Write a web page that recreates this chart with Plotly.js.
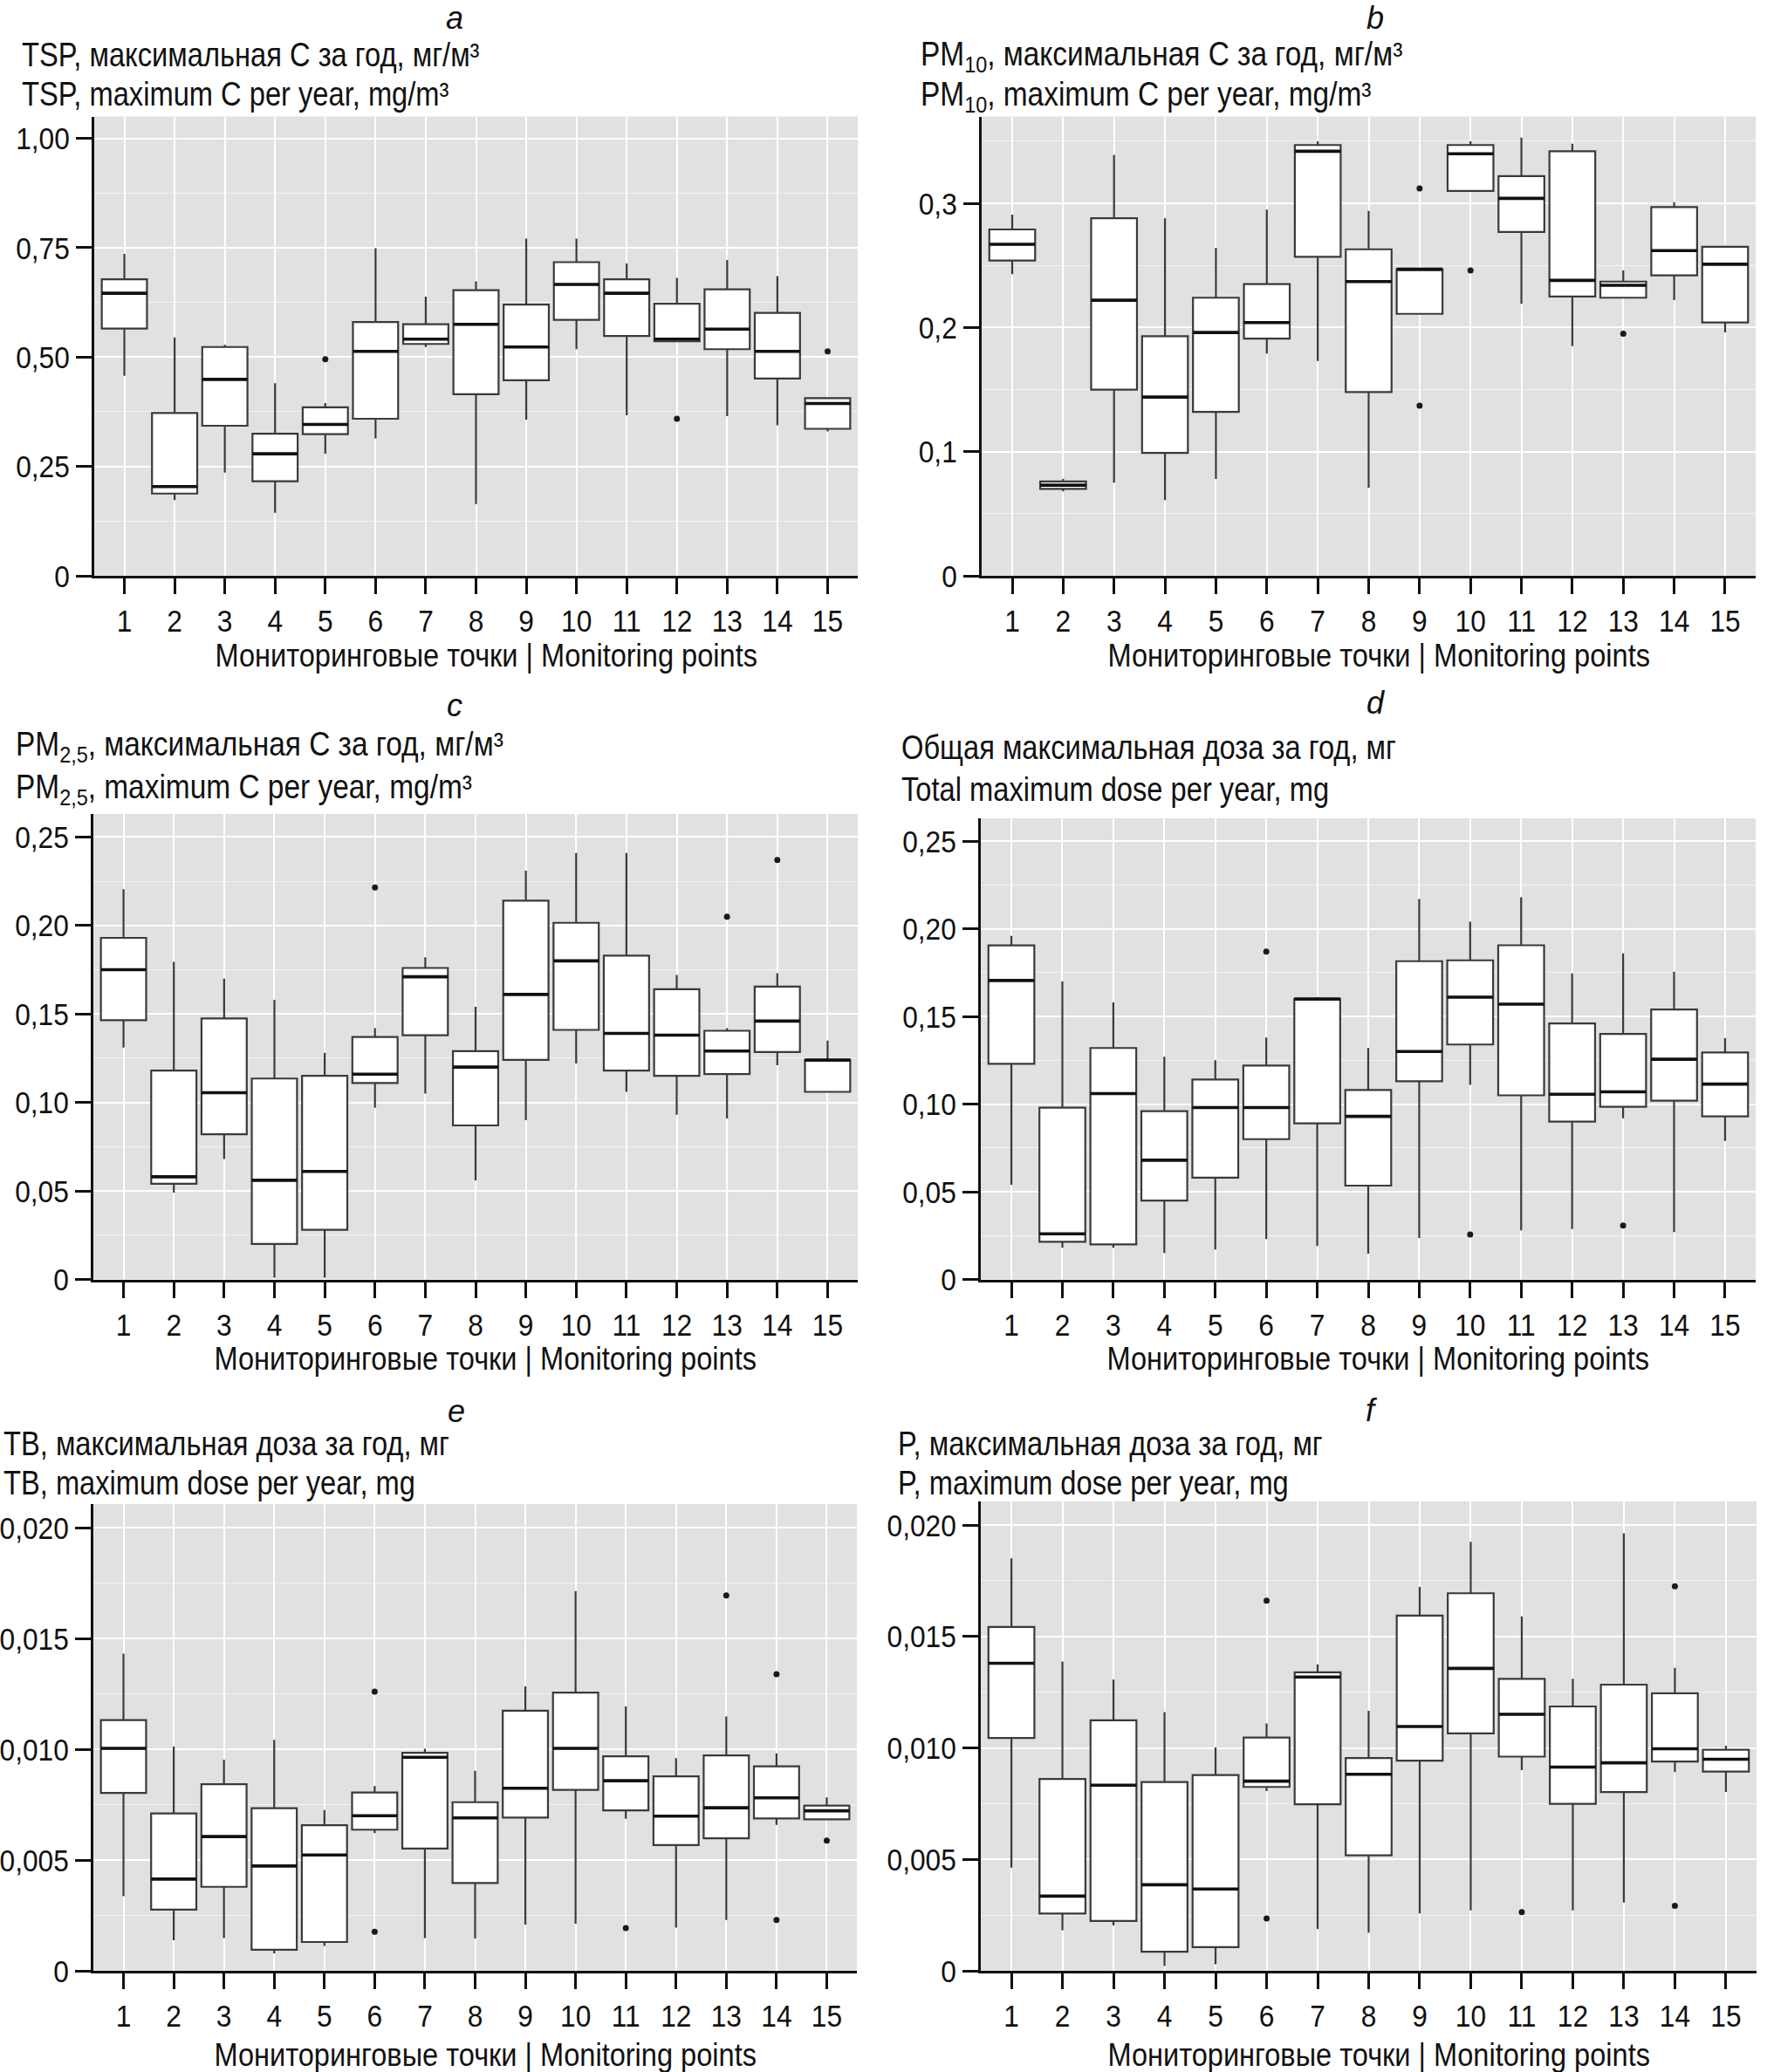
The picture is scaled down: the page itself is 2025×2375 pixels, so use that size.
<!DOCTYPE html>
<html>
<head>
<meta charset="utf-8">
<script src="https://cdn.plot.ly/plotly-3.0.1.min.js"></script>
<style>html,body{margin:0;padding:0;background:#fff}</style>
</head>
<body>
<div id="chart" style="width:2025px;height:2375px"></div>
<script>
// ---------- DATA ----------
const points = [1,2,3,4,5,6,7,8,9,10,11,12,13,14,15];
const pointLabels = ['1','2','3','4','5','6','7','8','9','10','11','12','13','14','15'];
const xAxisTitle = 'Мониторинговые точки | Monitoring points';

// a: TSP
const aLo  = [0.457,0.173,0.236,0.144,0.279,0.314,0.523,0.164,0.357,0.518,0.367,0.536,0.365,0.344,0.330];
const aQ1  = [0.565,0.188,0.343,0.216,0.324,0.359,0.530,0.415,0.447,0.585,0.548,0.536,0.518,0.451,0.336];
const aMed = [0.646,0.204,0.449,0.279,0.346,0.513,0.541,0.575,0.523,0.666,0.646,0.541,0.564,0.513,0.394];
const aQ3  = [0.678,0.372,0.523,0.325,0.385,0.580,0.575,0.653,0.620,0.717,0.678,0.622,0.655,0.601,0.406];
const aHi  = [0.736,0.545,0.528,0.440,0.395,0.749,0.638,0.673,0.771,0.771,0.714,0.681,0.722,0.685,0.406];
const aOutX = [5,12,15];
const aOutY = [0.495,0.359,0.513];
const aTickVals = [0,0.25,0.5,0.75,1.0];
const aTickText = ['0','0,25','0,50','0,75','1,00'];

// b: PM10
const bLo  = [0.243,0.068,0.075,0.061,0.078,0.179,0.173,0.071,0.211,0.310,0.219,0.185,0.224,0.222,0.196];
const bQ1  = [0.254,0.070,0.150,0.099,0.132,0.191,0.257,0.148,0.211,0.310,0.277,0.225,0.224,0.242,0.204];
const bMed = [0.267,0.073,0.222,0.144,0.196,0.204,0.342,0.237,0.247,0.340,0.304,0.238,0.234,0.262,0.251];
const bQ3  = [0.279,0.076,0.288,0.193,0.224,0.235,0.347,0.263,0.247,0.347,0.322,0.342,0.237,0.297,0.265];
const bHi  = [0.291,0.078,0.339,0.288,0.264,0.295,0.350,0.294,0.247,0.350,0.353,0.348,0.246,0.301,0.266];
const bOutX = [9,9,10,13];
const bOutY = [0.312,0.137,0.246,0.195];
const bTickVals = [0,0.1,0.2,0.3];
const bTickText = ['0','0,1','0,2','0,3'];

// c: PM2.5
const cLo  = [0.131,0.049,0.068,0.001,0.001,0.097,0.105,0.056,0.090,0.122,0.106,0.093,0.091,0.121,0.106];
const cQ1  = [0.1465,0.054,0.082,0.020,0.028,0.111,0.138,0.087,0.124,0.141,0.118,0.115,0.116,0.1285,0.106];
const cMed = [0.175,0.058,0.1055,0.056,0.061,0.116,0.171,0.120,0.161,0.180,0.139,0.138,0.129,0.146,0.124];
const cQ3  = [0.193,0.118,0.1475,0.1135,0.115,0.137,0.176,0.129,0.214,0.2015,0.183,0.164,0.1405,0.1655,0.124];
const cHi  = [0.2205,0.1795,0.170,0.158,0.128,0.142,0.182,0.154,0.231,0.241,0.241,0.172,0.142,0.173,0.135];
const cOutX = [6,13,14];
const cOutY = [0.2215,0.205,0.237];
const cTickVals = [0,0.05,0.10,0.15,0.20,0.25];
const cTickText = ['0','0,05','0,10','0,15','0,20','0,25'];

// d: total dose
const dLo  = [0.054,0.018,0.018,0.015,0.017,0.023,0.019,0.0147,0.0236,0.111,0.028,0.0287,0.092,0.027,0.079];
const dQ1  = [0.123,0.0215,0.020,0.045,0.058,0.080,0.089,0.0535,0.113,0.134,0.105,0.090,0.0985,0.102,0.093];
const dMed = [0.1705,0.026,0.106,0.068,0.098,0.098,0.160,0.093,0.130,0.161,0.157,0.1056,0.107,0.1256,0.1114];
const dQ3  = [0.1905,0.098,0.132,0.096,0.114,0.122,0.160,0.108,0.1815,0.182,0.1906,0.146,0.140,0.154,0.1294];
const dHi  = [0.196,0.170,0.158,0.127,0.125,0.138,0.161,0.132,0.217,0.204,0.218,0.1746,0.186,0.1756,0.1376];
const dOutX = [6,10,13];
const dOutY = [0.187,0.0256,0.0307];
const dTickVals = [0,0.05,0.10,0.15,0.20,0.25];
const dTickText = ['0','0,05','0,10','0,15','0,20','0,25'];

// e: TB dose
const eLo  = [0.00337,0.00138,0.00148,0.00079,0.00112,0.00621,0.00148,0.00146,0.00209,0.00213,0.00686,0.00195,0.00229,0.00659,0.00684];
const eQ1  = [0.00803,0.00276,0.00379,0.00095,0.00130,0.00637,0.00552,0.00396,0.00692,0.00817,0.00724,0.00568,0.00598,0.00688,0.00684];
const eMed = [0.01004,0.00414,0.00606,0.00473,0.00523,0.00700,0.00964,0.00690,0.00824,0.01004,0.00858,0.00698,0.00736,0.00781,0.00722];
const eQ3  = [0.01132,0.00710,0.00842,0.00734,0.00657,0.00805,0.00984,0.00761,0.01174,0.01256,0.00968,0.00878,0.00972,0.00923,0.00746];
const eHi  = [0.01432,0.01012,0.00953,0.01043,0.00726,0.00834,0.01002,0.00903,0.01284,0.01714,0.01193,0.00960,0.01148,0.00982,0.00783];
const eOutX = [6,6,11,13,14,14,15];
const eOutY = [0.0126,0.00176,0.00193,0.01694,0.01339,0.00229,0.00588];
const eTickVals = [0,0.005,0.010,0.015,0.020];
const eTickText = ['0','0,005','0,010','0,015','0,020'];

// f: P dose
const fLo  = [0.00463,0.00182,0.00204,0.00022,0.00029,0.00806,0.00188,0.00171,0.00257,0.00271,0.00900,0.00271,0.00306,0.00892,0.00802];
const fQ1  = [0.01045,0.00257,0.00224,0.00086,0.00106,0.00825,0.00747,0.00518,0.00943,0.01065,0.00961,0.00749,0.00802,0.00939,0.00894];
const fMed = [0.01380,0.00335,0.00833,0.00386,0.00367,0.00851,0.01318,0.00882,0.01096,0.01357,0.01151,0.00914,0.00933,0.00996,0.00949];
const fQ3  = [0.01543,0.00861,0.01124,0.00847,0.00878,0.01047,0.01339,0.00955,0.01594,0.01694,0.01310,0.01186,0.01284,0.01245,0.00992];
const fHi  = [0.01851,0.01388,0.01306,0.01161,0.01002,0.01110,0.01375,0.01167,0.01722,0.01925,0.01590,0.01310,0.01963,0.01359,0.01010];
const fOutX = [6,6,11,14,14];
const fOutY = [0.01661,0.00235,0.00263,0.01725,0.00292];
const fTickVals = [0,0.005,0.010,0.015,0.020];
const fTickText = ['0','0,005','0,010','0,015','0,020'];

const panelLetters = ['a','b','c','d','e','f'];
const titlesRu = [
  'TSP, максимальная C за год, мг/м³',
  'PM<sub>10</sub>, максимальная C за год, мг/м³',
  'PM<sub>2,5</sub>, максимальная C за год, мг/м³',
  'Общая максимальная доза за год, мг',
  'TB, максимальная доза за год, мг',
  'P, максимальная доза за год, мг'
];
const titlesEn = [
  'TSP, maximum C per year, mg/m³',
  'PM<sub>10</sub>, maximum C per year, mg/m³',
  'PM<sub>2,5</sub>, maximum C per year, mg/m³',
  'Total maximum dose per year, mg',
  'TB, maximum dose per year, mg',
  'P, maximum dose per year, mg'
];

// ---------- LAYOUT / STYLE ----------
const W = 2025, H = 2375;
const FONT = "'Liberation Sans', Arial, sans-serif";
const STRETCH_TITLE = 0.86;  // horizontal condensing (reference uses a condensed face)
const STRETCH_OTHER = 0.88;
const px = v => v / W;
const py = v => 1 - v / H;

const panels = [
  {lo:aLo,q1:aQ1,med:aMed,q3:aQ3,hi:aHi,ox:aOutX,oy:aOutY,tv:aTickVals,tt:aTickText,ymax:1.05,minor:0.125,
   x0:108,x1:983,y0:133.5,y1:660,titleX:23,t1:63,t2:108,letterX:521,letterY:21,xtY:752},
  {lo:bLo,q1:bQ1,med:bMed,q3:bQ3,hi:bHi,ox:bOutX,oy:bOutY,tv:bTickVals,tt:bTickText,ymax:0.37,minor:0.05,
   x0:1125,x1:2012,y0:133.5,y1:660,titleX:1053,t1:65,t2:111,letterX:1576,letterY:20,xtY:752},
  {lo:cLo,q1:cQ1,med:cMed,q3:cQ3,hi:cHi,ox:cOutX,oy:cOutY,tv:cTickVals,tt:cTickText,ymax:0.263,minor:0.025,
   x0:107,x1:983,y0:933,y1:1466.5,titleX:16,t1:856,t2:905,letterX:521,letterY:808,xtY:1557},
  {lo:dLo,q1:dQ1,med:dMed,q3:dQ3,hi:dHi,ox:dOutX,oy:dOutY,tv:dTickVals,tt:dTickText,ymax:0.263,minor:0.025,
   x0:1124,x1:2012,y0:938,y1:1466.5,titleX:1031,t1:857,t2:905,letterX:1576,letterY:805,xtY:1557},
  {lo:eLo,q1:eQ1,med:eMed,q3:eQ3,hi:eHi,ox:eOutX,oy:eOutY,tv:eTickVals,tt:eTickText,ymax:0.02107,minor:0.0025,
   x0:107,x1:982,y0:1724,y1:2259,titleX:2,t1:1655,t2:1700,letterX:523,letterY:1618,xtY:2355},
  {lo:fLo,q1:fQ1,med:fMed,q3:fQ3,hi:fHi,ox:fOutX,oy:fOutY,tv:fTickVals,tt:fTickText,ymax:0.02106,minor:0.0025,
   x0:1124,x1:2013,y0:1721,y1:2259,titleX:1027,t1:1655,t2:1700,letterX:1572,letterY:1616,xtY:2355}
];
const X_TITLE_SHIFT = 11;

const traces = [];
const layout = {
  width: W, height: H,
  margin: {l:0, r:0, t:0, b:0},
  paper_bgcolor: '#ffffff',
  plot_bgcolor: '#e1e1e1',
  showlegend: false,
  boxmode: 'overlay',
  font: {family: FONT, size: 36, color: '#111'},
  annotations: []
};

panels.forEach((p, i) => {
  const n = i === 0 ? '' : String(i + 1);
  const xa = 'x' + n, ya = 'y' + n;
  traces.push({
    type: 'box', xaxis: xa, yaxis: ya,
    x: points, q1: p.q1, median: p.med, q3: p.q3,
    lowerfence: p.lo, upperfence: p.hi,
    boxpoints: false, width: 0.9, whiskerwidth: 0,
    fillcolor: '#ffffff',
    line: {color: '#3a3a3a', width: 2.2},
    hoverinfo: 'skip'
  });
  traces.push({
    type: 'box', xaxis: xa, yaxis: ya,
    x: points, q1: p.med, median: p.med, q3: p.med,
    lowerfence: p.med, upperfence: p.med,
    boxpoints: false, width: 0.9, whiskerwidth: 0,
    fillcolor: 'rgba(0,0,0,0)',
    line: {color: '#111111', width: 3.6},
    hoverinfo: 'skip'
  });
  traces.push({
    type: 'scatter', mode: 'markers', xaxis: xa, yaxis: ya,
    x: p.ox, y: p.oy,
    marker: {color: '#1a1a1a', size: 7},
    hoverinfo: 'skip'
  });
  layout['xaxis' + n] = {
    domain: [px(p.x0), px(p.x1)],
    anchor: ya,
    range: [0.4, 15.6],
    tickmode: 'array', tickvals: points, ticktext: pointLabels,
    showgrid: true, gridcolor: '#ffffff', gridwidth: 2,
    zeroline: false,
    showline: true, linecolor: '#111', linewidth: 3,
    ticks: 'outside', ticklen: 18, tickwidth: 3, tickcolor: '#111',
    tickfont: {family: FONT, size: 36, color: '#111'},
    fixedrange: true
  };
  layout['yaxis' + n] = {
    domain: [py(p.y1), py(p.y0)],
    anchor: xa,
    range: [0, p.ymax],
    tickmode: 'array', tickvals: p.tv, ticktext: p.tt,
    showgrid: true, gridcolor: '#ffffff', gridwidth: 2,
    minor: {tickmode: 'linear', tick0: 0, dtick: p.minor, showgrid: true, gridcolor: '#f4f4f4', gridwidth: 1, ticks: ''},
    zeroline: false,
    showline: true, linecolor: '#111', linewidth: 3,
    ticks: 'outside', ticklen: 18, tickwidth: 3, tickcolor: '#111',
    tickfont: {family: FONT, size: 36, color: '#111'},
    fixedrange: true
  };
  layout.annotations.push(
    {xref:'paper', yref:'paper', x: px(p.letterX), y: py(p.letterY), xanchor:'center', yanchor:'middle',
     text: '<i>' + panelLetters[i] + '</i>', showarrow:false, font:{family:FONT, size:36, color:'#111'}},
    {xref:'paper', yref:'paper', x: px(p.titleX), y: py(p.t1), xanchor:'left', yanchor:'middle', align:'left',
     text: titlesRu[i], showarrow:false, font:{family:FONT, size:38, color:'#111'}},
    {xref:'paper', yref:'paper', x: px(p.titleX), y: py(p.t2), xanchor:'left', yanchor:'middle', align:'left',
     text: titlesEn[i], showarrow:false, font:{family:FONT, size:38, color:'#111'}},
    {xref:'paper', yref:'paper', x: px((p.x0 + p.x1) / 2 + X_TITLE_SHIFT), y: py(p.xtY), xanchor:'center', yanchor:'middle',
     text: xAxisTitle, showarrow:false, font:{family:FONT, size:37, color:'#111'}}
  );
});

const titleSet = new Set(titlesRu.concat(titlesEn).map(t => t.replace(/<\/?sub>/g, '')));

Plotly.newPlot('chart', traces, layout, {staticPlot: true, displayModeBar: false}).then(gd => {
  // condense text horizontally around each text's own anchor point
  gd.querySelectorAll('svg text').forEach(t => {
    const txt = t.textContent;
    let s = STRETCH_OTHER;
    if (titleSet.has(txt)) s = STRETCH_TITLE;
    else if (panelLetters.indexOf(txt) >= 0) s = 1;
    if (s === 1) return;
    const x = parseFloat(t.getAttribute('x') || '0') || 0;
    const prev = t.getAttribute('transform') || '';
    t.setAttribute('transform', (prev + ' translate(' + (x * (1 - s)) + ',0) scale(' + s + ',1)').trim());
  });
});
</script>
</body>
</html>
